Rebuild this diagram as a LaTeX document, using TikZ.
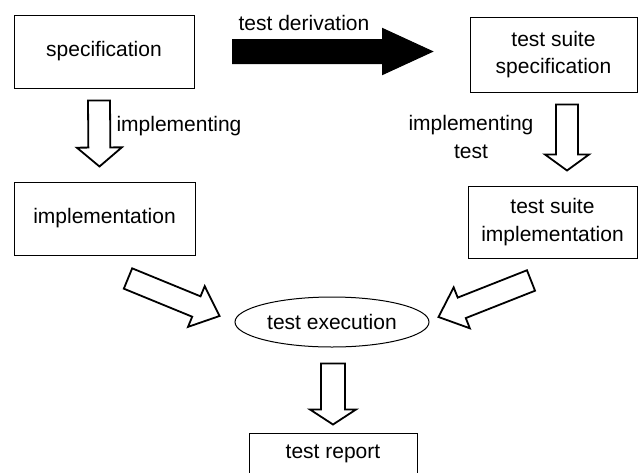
\documentclass[tikz,border=0pt]{standalone}
\usepackage{fontspec}
\setmainfont{Liberation Sans}
\usetikzlibrary{calc,shapes.geometric}

% block arrow: #1 style, #2 tail coordinate, #3 tip coordinate,
% #4 half shaft width, #5 half head width, #6 head length
\newcommand\blockarrow[6]{%
  \coordinate (hb) at ($(#3)!#6!(#2)$);
  \draw[#1] ($(#2)!#4!90:(#3)$) -- ($(hb)!#4!90:(#3)$) -- ($(hb)!#5!90:(#3)$)
    -- (#3) -- ($(hb)!#5!-90:(#3)$) -- ($(hb)!#4!-90:(#3)$)
    -- ($(#2)!#4!-90:(#3)$) -- cycle;
}

\begin{document}
\begin{tikzpicture}[x=1pt,y=-1pt,
  every node/.style={font=\fontsize{21}{27.5}\selectfont},
  box/.style={draw, line width=1pt, inner sep=0pt, align=center},
  oval/.style={draw, ellipse, line width=1pt, inner sep=0pt},
  label/.style={align=center, inner sep=0pt},
  hollow/.style={draw, line width=1.8pt, fill=white, line join=miter},
  solid/.style={draw, line width=1pt, fill=black}]
\useasboundingbox (0,0) rectangle (640,472);

% boxes
\node[box, minimum width=180pt, minimum height=73pt] (spec) at (104,51.5) {specification};
\node[box, minimum width=181pt, minimum height=73pt] (impl) at (104.5,218.5) {implementation};
\node[box, minimum width=167pt, minimum height=75pt] (tss) at (553.5,54.5) {test suite\\specification};
\node[box, minimum width=169pt, minimum height=72pt] (tsi) at (552.5,222) {test suite\\implementation};
\node[oval, minimum width=194pt, minimum height=50pt] (exec) at (332,322) {test execution};
\node[box, minimum width=168pt, minimum height=42pt] (report) at (333,454) {test report};

% labels
\node[label] (lderiv) at (304,23) {test derivation};
\node[label] (limpl) at (179,126) {implementing};
\node[label] (limpltest) at (471,137) {implementing\\test};

% arrow end points
\coordinate (dS) at ($(spec.east)+(38,0)$);
\coordinate (dT) at ($(tss.west)+(-37,-3)$);
\coordinate (aS) at ($(spec.south)+(-5,12)$);
\coordinate (aT) at ($(impl.north)+(-5,-15)$);
\coordinate (bS) at ($(tss.south)+(13.5,12)$);
\coordinate (bT) at ($(tsi.north)+(14.5,-15)$);
\coordinate (cS) at ($(impl.south)+(23.5,23)$);
\coordinate (cT) at ($(exec.west)+(-15,-6)$);
\coordinate (eS) at ($(tsi.south)+(-21.5,22)$);
\coordinate (eT) at ($(exec.east)+(9,-5)$);
\coordinate (fS) at ($(exec.south)+(1,16)$);
\coordinate (fT) at ($(report.north)+(0,-8)$);

% arrows
\blockarrow{solid}{dS}{dT}{12pt}{23pt}{50pt}
\blockarrow{hollow}{aS}{aT}{11pt}{22.5pt}{19pt}
\blockarrow{hollow}{bS}{bT}{11pt}{22pt}{16pt}
\blockarrow{hollow}{cS}{cT}{11pt}{22pt}{25pt}
\blockarrow{hollow}{eS}{eT}{11pt}{22pt}{25pt}
\blockarrow{hollow}{fS}{fT}{12pt}{23pt}{15pt}
\end{tikzpicture}
\end{document}
